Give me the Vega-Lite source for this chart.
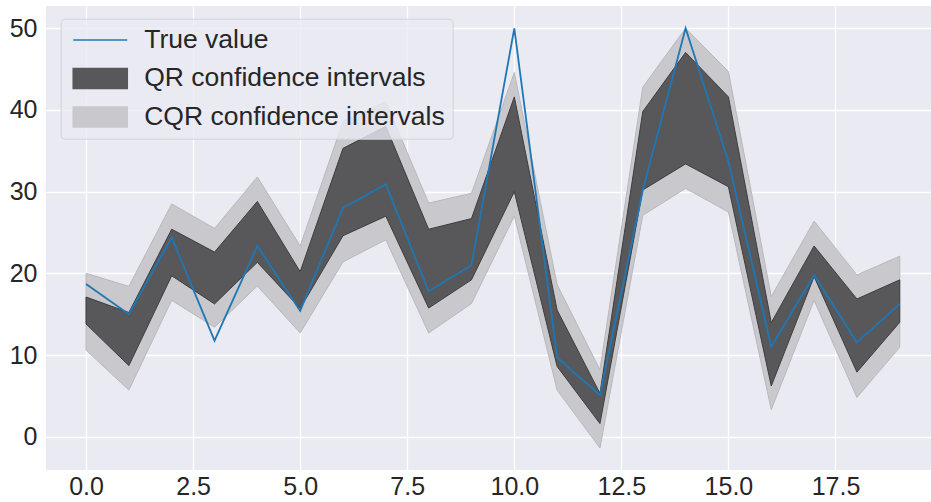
{
  "$schema": "https://vega.github.io/schema/vega-lite/v6.json",
  "autosize": {"type": "none"},
  "padding": {"left": 46, "top": 6, "right": 0, "bottom": 32},
  "width": 885,
  "height": 464,
  "background": "#ffffff",
  "data": {"values": [
    {"x": 0, "truth": 18.7, "qlo": 13.8, "qhi": 17.1, "clo": 10.6, "chi": 20.0},
    {"x": 1, "truth": 15.0, "qlo": 8.7, "qhi": 15.2, "clo": 5.7, "chi": 18.4},
    {"x": 2, "truth": 24.4, "qlo": 19.7, "qhi": 25.4, "clo": 16.7, "chi": 28.5},
    {"x": 3, "truth": 11.75, "qlo": 16.25, "qhi": 22.6, "clo": 13.4, "chi": 25.5},
    {"x": 4, "truth": 23.35, "qlo": 21.35, "qhi": 28.8, "clo": 18.45, "chi": 31.8},
    {"x": 5, "truth": 15.4, "qlo": 15.7, "qhi": 20.2, "clo": 12.7, "chi": 23.35},
    {"x": 6, "truth": 28.0, "qlo": 24.6, "qhi": 35.3, "clo": 21.4, "chi": 38.6},
    {"x": 7, "truth": 30.9, "qlo": 27.0, "qhi": 38.0, "clo": 24.1, "chi": 41.0},
    {"x": 8, "truth": 17.8, "qlo": 15.75, "qhi": 25.4, "clo": 12.7, "chi": 28.6},
    {"x": 9, "truth": 21.0, "qlo": 19.2, "qhi": 26.7, "clo": 16.3, "chi": 29.8},
    {"x": 10, "truth": 50.0, "qlo": 30.0, "qhi": 41.6, "clo": 27.0, "chi": 44.6},
    {"x": 11, "truth": 9.7, "qlo": 8.6, "qhi": 15.5, "clo": 5.7, "chi": 18.6},
    {"x": 12, "truth": 5.1, "qlo": 1.6, "qhi": 5.3, "clo": -1.4, "chi": 8.2},
    {"x": 13, "truth": 30.2, "qlo": 30.2, "qhi": 39.8, "clo": 27.1, "chi": 42.8},
    {"x": 14, "truth": 50.0, "qlo": 33.4, "qhi": 47.05, "clo": 30.4, "chi": 50.0},
    {"x": 15, "truth": 33.7, "qlo": 30.6, "qhi": 41.6, "clo": 27.5, "chi": 44.7},
    {"x": 16, "truth": 11.0, "qlo": 6.2, "qhi": 13.96, "clo": 3.3, "chi": 17.15},
    {"x": 17, "truth": 19.8, "qlo": 19.6, "qhi": 23.35, "clo": 16.7, "chi": 26.4},
    {"x": 18, "truth": 11.55, "qlo": 7.9, "qhi": 16.86, "clo": 4.8, "chi": 19.8},
    {"x": 19, "truth": 16.25, "qlo": 14.0, "qhi": 19.2, "clo": 10.95, "chi": 22.1}
  ]},
  "layer": [
    {
      "mark": {"type": "area", "stroke": "#b8b8bd", "strokeWidth": 1, "opacity": 1},
      "encoding": {
        "x": {"field": "x", "type": "quantitative", "scale": {"domain": [-0.935, 19.73], "nice": false, "zero": false},
              "axis": {"values": [0, 2.5, 5, 7.5, 10, 12.5, 15, 17.5], "format": ".1f", "title": null}},
        "y": {"field": "clo", "type": "quantitative", "scale": {"domain": [-4.08, 52.73], "nice": false, "zero": false},
              "axis": {"values": [0, 10, 20, 30, 40, 50], "title": null}},
        "y2": {"field": "chi"},
        "color": {"datum": "CQR confidence intervals", "type": "nominal",
                  "scale": {"domain": ["True value", "QR confidence intervals", "CQR confidence intervals"], "range": ["#1f77b4", "#58585b", "#c8c8cd"]}}
      }
    },
    {
      "mark": {"type": "area", "stroke": "#3e3e41", "strokeWidth": 1, "opacity": 1},
      "encoding": {
        "x": {"field": "x", "type": "quantitative"},
        "y": {"field": "qlo", "type": "quantitative"},
        "y2": {"field": "qhi"},
        "color": {"datum": "QR confidence intervals", "type": "nominal"}
      }
    },
    {
      "mark": {"type": "line", "strokeWidth": 1.8},
      "encoding": {
        "x": {"field": "x", "type": "quantitative"},
        "y": {"field": "truth", "type": "quantitative"},
        "color": {"datum": "True value", "type": "nominal",
          "legend": {
            "title": null,
            "orient": "none",
            "legendX": 14.7,
            "legendY": 12.7,
            "padding": 8,
            "fillColor": "rgba(234,234,242,0.8)",
            "strokeColor": "#d2d2da",
            "cornerRadius": 4,
            "labelFont": "Liberation Sans",
            "labelFontSize": 26.5,
            "labelColor": "#262626",
            "labelLimit": 500,
            "symbolSize": 400,
            "labelOffset": 49,
            "rowPadding": 11.5,
            "encode": {
              "symbols": {
                "update": {
                  "shape": {"signal": "datum.value === 'True value' ? 'M-0.87,0H4.53' : 'M-0.87,-1H4.53V1H-0.87Z'"},
                  "fill": {"signal": "datum.value === 'True value' ? 'transparent' : (datum.value === 'QR confidence intervals' ? '#5a5a5e' : '#c8c8cd')"},
                  "stroke": {"signal": "datum.value === 'True value' ? '#1f77b4' : (datum.value === 'QR confidence intervals' ? '#45454a' : '#b5b5ba')"},
                  "strokeWidth": {"value": 1.6},
                  "opacity": {"value": 1}
                }
              }
            }
          }
        }
      }
    }
  ],
  "config": {
    "view": {"fill": "#eaeaf2", "stroke": null},
    "axis": {
      "domain": false,
      "ticks": false,
      "grid": true,
      "gridColor": "#ffffff",
      "gridWidth": 1.3,
      "labelFont": "Liberation Sans",
      "labelFontSize": 25,
      "labelColor": "#262626"
    },
    "axisX": {"labelPadding": 4},
    "axisY": {"labelPadding": 9}
  }
}
